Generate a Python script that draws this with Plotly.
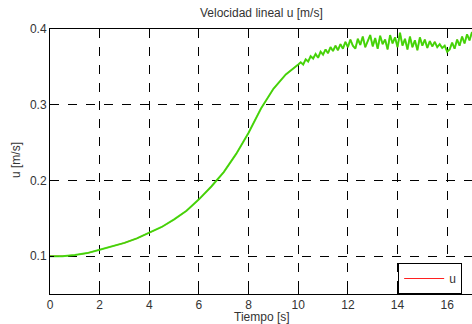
import plotly.graph_objects as go

t_smooth = [0.0, 0.5, 1.0, 1.5, 2.0, 2.5, 3.0, 3.5, 4.0, 4.5, 5.0, 5.5, 6.0,
            6.5, 7.0, 7.5, 8.0, 8.5, 9.0, 9.5, 10.0]
u_smooth = [0.1000, 0.1000, 0.1015, 0.1040, 0.1085, 0.1125, 0.1175, 0.1235,
            0.1305, 0.1385, 0.1485, 0.1600, 0.1750, 0.1920, 0.2110, 0.2350,
            0.2630, 0.2950, 0.3210, 0.3400, 0.3530]

t_osc = [round(10.1 + 0.1 * i, 1) for i in range(70)]
u_osc = [0.356, 0.353, 0.360, 0.357, 0.364, 0.361, 0.367, 0.362, 0.370, 0.366,
         0.373, 0.368, 0.376, 0.371, 0.378, 0.372, 0.380, 0.374, 0.383, 0.376,
         0.386, 0.378, 0.374, 0.387, 0.379, 0.390, 0.376, 0.384, 0.392, 0.377,
         0.388, 0.374, 0.391, 0.380, 0.386, 0.373, 0.392, 0.381, 0.389, 0.376,
         0.395, 0.378, 0.387, 0.373, 0.390, 0.376, 0.385, 0.372, 0.389, 0.378,
         0.386, 0.375, 0.384, 0.377, 0.383, 0.376, 0.380, 0.375, 0.378, 0.370,
         0.373, 0.382, 0.374, 0.386, 0.378, 0.390, 0.381, 0.393, 0.385, 0.396]

t = t_smooth + t_osc
u = u_smooth + u_osc

x_ticks = [0, 2, 4, 6, 8, 10, 12, 14, 16]
y_ticks = [0.1, 0.2, 0.3, 0.4]

font_family = "Liberation Sans, Arial, sans-serif"
txt = "#333333"

fig = go.Figure()
fig.add_trace(go.Scatter(x=t, y=u, mode="lines", name="u",
                         line=dict(color="#ff2020", width=1.2), showlegend=True))
fig.add_trace(go.Scatter(x=t, y=u, mode="lines", name="u_green",
                         line=dict(color="rgba(40,235,0,0.85)", width=2),
                         showlegend=False))

axis_common = dict(
    showgrid=True, gridcolor="black", griddash="dash", gridwidth=1,
    showline=True, linecolor="black", linewidth=1, mirror=True,
    ticks="inside", ticklen=4, tickcolor="black",
    zeroline=False, automargin=False,
    tickfont=dict(family=font_family, size=12, color=txt),
)

fig.update_layout(
    width=472, height=324,
    margin=dict(l=50, r=0, t=29, b=30, autoexpand=False),
    paper_bgcolor="white", plot_bgcolor="white",
    xaxis=dict(range=[0, 17], tickvals=x_ticks, ticktext=[str(v) for v in x_ticks],
               **axis_common),
    yaxis=dict(range=[0.05, 0.4], tickvals=y_ticks, tickformat=".1f",
               **axis_common),
    legend=dict(x=0.825, y=0, xanchor="left", yanchor="bottom",
                bgcolor="white", bordercolor="black", borderwidth=1,
                font=dict(family=font_family, size=12, color=txt),
                itemwidth=40),
    annotations=[
        dict(text="Velocidad lineal u [m/s]", xref="paper", yref="paper",
             x=0.5, y=(324 - 29 - 14) / 265, xanchor="center", yanchor="middle",
             showarrow=False, font=dict(family=font_family, size=12, color=txt)),
        dict(text="Tiempo [s]", xref="paper", yref="paper",
             x=(262 - 50) / 422, y=-(317 - 294) / 265, xanchor="center", yanchor="middle",
             showarrow=False, font=dict(family=font_family, size=12, color=txt)),
        dict(text="u [m/s]", xref="paper", yref="paper", textangle=-90,
             x=-(50 - 16) / 422, y=(294 - 160) / 265, xanchor="center", yanchor="middle",
             showarrow=False, font=dict(family=font_family, size=12, color=txt)),
    ],
)

fig.write_html("out.html", config={"displayModeBar": False},
               post_script="document.body.style.margin='0';document.body.style.overflow='hidden';")
